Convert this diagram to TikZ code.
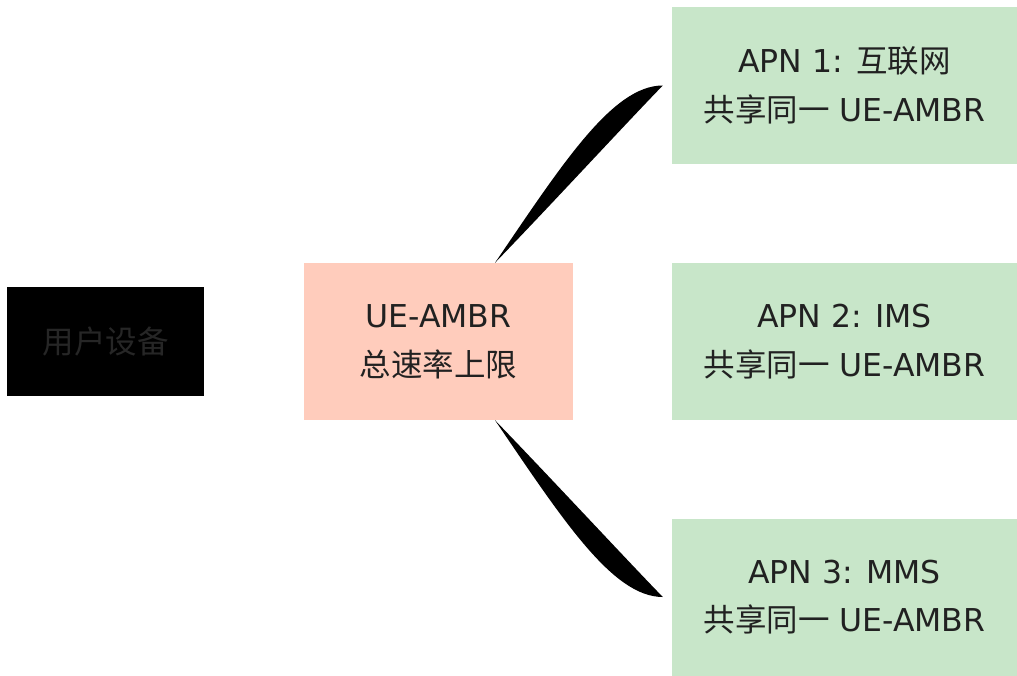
\documentclass[tikz,border=0pt]{standalone}
\usepackage{fontspec}
\setmainfont{DejaVu Sans}
\newfontfamily\cjk{Noto Sans CJK SC}
\usetikzlibrary{calc}
\definecolor{salmon}{HTML}{FFCCBC}
\definecolor{mint}{HTML}{C8E6C9}
\definecolor{ink}{HTML}{212121}
\tikzset{
  box/.style={draw=none, inner sep=0pt, align=center, text=ink,
    font=\fontsize{31.5}{48.6}\selectfont},
  greenbox/.style={box, fill=mint, minimum width=345pt, minimum height=157pt},
  wedge/.style={fill=black, draw=none}
}
\begin{document}
\begin{tikzpicture}[x=1pt,y=-1pt]
\useasboundingbox (0,0) rectangle (1017,675);
\node[box, fill=black, text=black!85!white, minimum width=197pt, minimum height=109pt] (ue) at (105.5,341.5) {{\cjk 用户设备}};
\node[box, fill=salmon, minimum width=269pt, minimum height=157pt] (amb) at (438.5,341.5) {UE-AMBR\\{\cjk 总速率上限}};
\node[greenbox] (g1) at (844.5,85.5) {APN 1: {\cjk 互联网}\\{\cjk 共享同一} UE-AMBR};
\node[greenbox] (g2) at (844.5,341.5) {APN 2: IMS\\{\cjk 共享同一} UE-AMBR};
\node[greenbox] (g3) at (844.5,597) {APN 3: MMS\\{\cjk 共享同一} UE-AMBR};
% connector anchors
\coordinate (a1) at ($(amb.north)+(56.5,0)$);
\coordinate (b1) at ($(g1.west)+(-9,0)$);
\coordinate (a3) at ($(amb.south)+(56.5,0)$);
\coordinate (b3) at ($(g3.west)+(-9,0)$);
\fill[wedge] (a1) .. controls ($(a1)+(68,-100)$) and ($(b1)+(-50,0)$) .. (b1)
  .. controls ($(b1)+(-35,36)$) and ($(a1)+(56,-58)$) .. (a1) -- cycle;
\fill[wedge] (a3) .. controls ($(a3)+(68,100)$) and ($(b3)+(-50,0)$) .. (b3)
  .. controls ($(b3)+(-35,-36)$) and ($(a3)+(56,58)$) .. (a3) -- cycle;
\end{tikzpicture}
\end{document}
